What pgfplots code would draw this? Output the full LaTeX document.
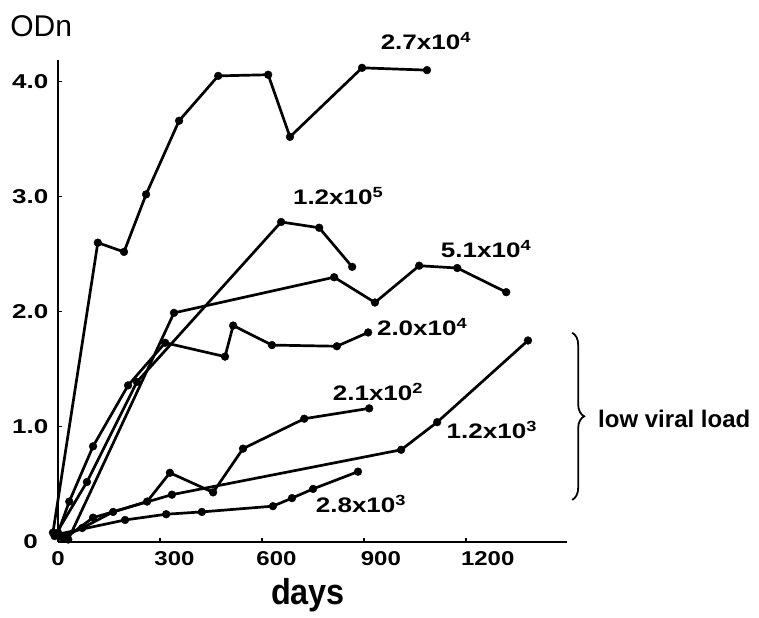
\documentclass[border=0pt]{standalone}
\usepackage{fontspec}
\setmainfont{Liberation Sans}
\usepackage{pgfplots}
\pgfplotsset{compat=1.18}
\usetikzlibrary{decorations.pathreplacing}

\pgfplotstableread{
d v
-15 0.08
117 2.60
194 2.52
259 3.02
356 3.66
471 4.05
618 4.06
682 3.52
894 4.12
1085 4.10
}\serA
\pgfplotstableread{
d v
-10 0.05
85 0.52
232 1.39
656 2.78
768 2.73
865 2.39
}\serB
\pgfplotstableread{
d v
30 0.02
341 1.99
812 2.30
932 2.08
1062 2.40
1174 2.38
1318 2.17
}\serC
\pgfplotstableread{
d v
0 0.08
33 0.35
103 0.83
206 1.36
315 1.73
491 1.61
515 1.88
629 1.71
820 1.70
912 1.82
}\serD
\pgfplotstableread{
d v
10 0.04
71 0.12
162 0.26
262 0.35
329 0.60
456 0.43
544 0.81
724 1.07
915 1.16
}\serE
\pgfplotstableread{
d v
20 0.03
103 0.21
335 0.41
1009 0.80
1115 1.04
1382 1.75
}\serF
\pgfplotstableread{
d v
-10 0.06
197 0.19
318 0.24
423 0.26
632 0.31
688 0.38
750 0.46
882 0.61
}\serG

\begin{document}
\begin{tikzpicture}
\begin{axis}[
  scale only axis, width=509pt, height=482pt,
  xmin=0, xmax=1497, ymin=0, ymax=4.19,
  axis x line=bottom, axis y line=left,
  axis line style={line width=2.2pt, -},
  clip=false,
  xtick={0,300,600,900,1200},
  xticklabels={0,\hspace*{24pt}300,\hspace*{24pt}600,\hspace*{28pt}900,\hspace*{36pt}1200},
  ytick={0,1,2,3,4},
  yticklabels={0\hspace*{8pt},1.0,2.0,3.0,4.0},
  tick align=inside, major tick length=3.5pt,
  tick style={line width=1.4pt, black},
  ticklabel style={font=\fontsize{20}{24}\selectfont\bfseries},
  xticklabel style={xscale=1.2, yshift=-6pt},
  yticklabel style={xscale=1.3, xshift=-4pt},
  ser/.style={line width=2.7pt, black, solid, mark=*, mark size=3.9pt, mark options={solid, fill=black, line width=0.4pt}},
]
\addplot[ser] table[x=d,y=v] {\serA};
\addplot[ser] table[x=d,y=v] {\serB};
\addplot[ser] table[x=d,y=v] {\serC};
\addplot[ser] table[x=d,y=v] {\serD};
\addplot[ser] table[x=d,y=v] {\serE};
\addplot[ser] table[x=d,y=v] {\serF};
\addplot[ser] table[x=d,y=v] {\serG};

\begin{scope}[every node/.style={font=\fontsize{21}{24}\selectfont\bfseries, anchor=base, xscale=1.24, inner sep=0pt}]
\node at (axis cs:1082,4.278) {2.7x10\textsuperscript{4}};
\node at (axis cs:824,2.930) {1.2x10\textsuperscript{5}};
\node at (axis cs:1259,2.470) {5.1x10\textsuperscript{4}};
\node at (axis cs:1071,1.791) {2.0x10\textsuperscript{4}};
\node at (axis cs:941,1.226) {2.1x10\textsuperscript{2}};
\node at (axis cs:1276,0.896) {1.2x10\textsuperscript{3}};
\node at (axis cs:891,0.252) {2.8x10\textsuperscript{3}};
\end{scope}
\node[anchor=base west, inner sep=0pt, font=\fontsize{24}{28}\selectfont\bfseries] at (axis cs:1588,0.991) {low viral load};
\draw[decorate, decoration={brace, amplitude=12pt}, line width=1.8pt] (axis cs:1512,1.817) -- (axis cs:1512,0.365);
\node[anchor=base west, inner sep=0pt, font=\fontsize{30}{34}\selectfont] at (axis cs:-141,4.39) {ODn};
\node[anchor=base, inner sep=0pt, xscale=0.9, font=\fontsize{36}{40}\selectfont\bfseries] at (axis cs:735,-0.548) {days};
\path (rel axis cs:-0.114,-0.158) rectangle (rel axis cs:1.377,1.124);
\end{axis}
\end{tikzpicture}
\end{document}
